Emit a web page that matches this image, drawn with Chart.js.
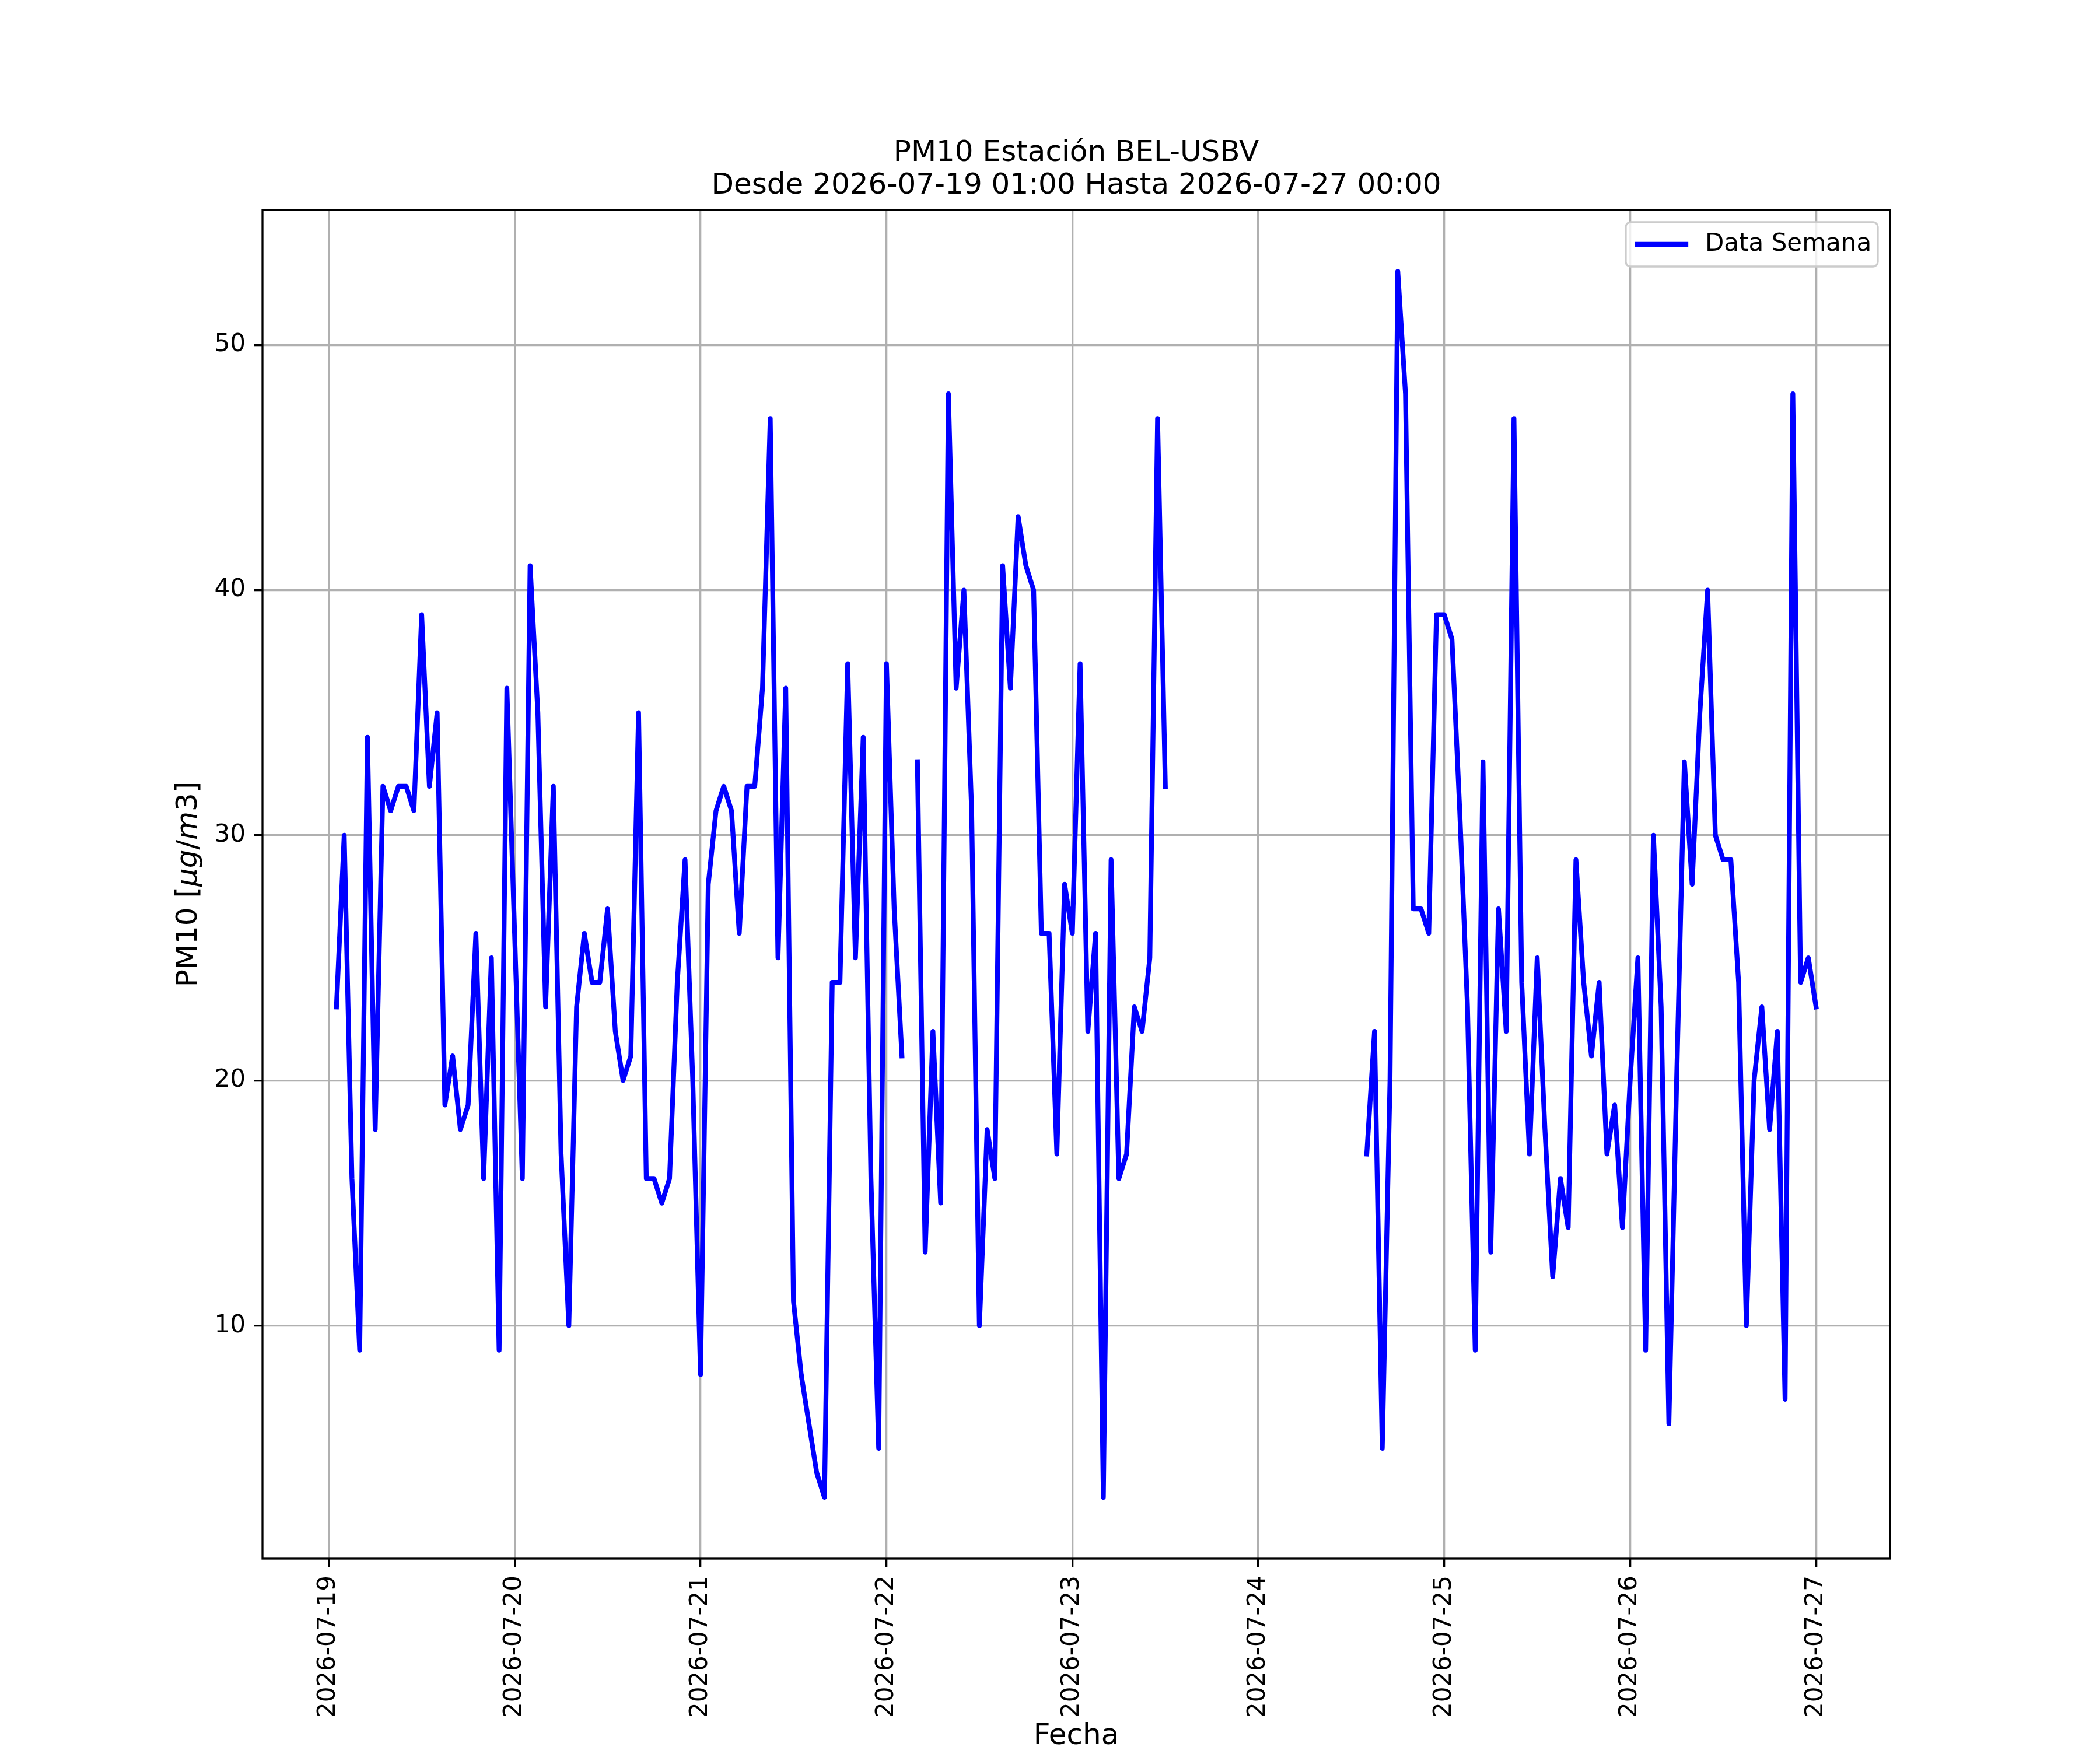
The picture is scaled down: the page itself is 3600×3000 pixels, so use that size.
<!DOCTYPE html>
<html>
<head>
<meta charset="utf-8">
<script src="https://cdn.jsdelivr.net/npm/chart.js@4.4.1/dist/chart.umd.min.js"></script>
<style>
  body { margin: 0; background: #fff; }
  canvas { display: block; }
</style>
</head>
<body>
<canvas id="grafico" width="3600" height="3000" style="width:3600px;height:3000px"></canvas>
<script>
// Titulo y serie
const titulo = ['PM10 Estación BEL-USBV', 'Desde 2026-07-19 01:00 Hasta 2026-07-27 00:00'];
const etiquetaSerie = 'Data Semana';

// PM10 horario por dia, posicion = hora 00..23 (null = sin dato)
const dia19 = [null, 23, 30, 16, 9, 34, 18, 32, 31, 32, 32, 31, 39, 32, 35, 19, 21, 18, 19, 26, 16, 25, 9, 36];
const dia20 = [26, 16, 41, 35, 23, 32, 17, 10, 23, 26, 24, 24, 27, 22, 20, 21, 35, 16, 16, 15, 16, 24, 29, 20];
const dia21 = [8, 28, 31, 32, 31, 26, 32, 32, 36, 47, 25, 36, 11, 8, 6, 4, 3, 24, 24, 37, 25, 34, 16, 5];
const dia22 = [37, 27, 21, null, 33, 13, 22, 15, 48, 36, 40, 31, 10, 18, 16, 41, 36, 43, 41, 40, 26, 26, 17, 28];
const dia23 = [26, 37, 22, 26, 3, 29, 16, 17, 23, 22, 25, 47, 32, null, null, null, null, null, null, null, null, null, null, null];
const dia24 = [null, null, null, null, null, null, null, null, null, null, null, null, null, null, 17, 22, 5, 20, 53, 48, 27, 27, 26, 39];
const dia25 = [39, 38, 31, 23, 9, 33, 13, 27, 22, 47, 24, 17, 25, 18, 12, 16, 14, 29, 24, 21, 24, 17, 19, 14];
const dia26 = [20, 25, 9, 30, 23, 6, 20, 33, 28, 35, 40, 30, 29, 29, 24, 10, 20, 23, 18, 22, 7, 48, 24, 25];
const dia27 = [23];

// etiquetas de los ejes
const fechasTicks = ['2026-07-19', '2026-07-20', '2026-07-21', '2026-07-22', '2026-07-23',
                     '2026-07-24', '2026-07-25', '2026-07-26', '2026-07-27'];
const ticksY = [10, 20, 30, 40, 50];

// eje x en horas desde 2026-07-19 00:00
const dias = [dia19, dia20, dia21, dia22, dia23, dia24, dia25, dia26, dia27];
const puntos = [];
dias.forEach((valores, d) => {
    valores.forEach((v, h) => {
        puntos.push({ x: d * 24 + h, y: v });
    });
});

Chart.defaults.font.family = '"DejaVu Sans", sans-serif';
Chart.defaults.color = '#000';

// marco, leyenda y rotulo del eje y (con parte en cursiva)
const extras = {
    id: 'extras',
    afterDraw(chart) {
        const ctx = chart.ctx;
        const area = chart.chartArea;

        ctx.save();
        ctx.strokeStyle = '#000';
        ctx.lineWidth = 3.3;
        ctx.strokeRect(area.left, area.top, area.right - area.left, area.bottom - area.top);

        // leyenda arriba a la derecha
        const ds = chart.data.datasets[0];
        const ancho = 432, alto = 76;
        const lx = area.right - 21 - ancho;
        const ly = area.top + 21;
        ctx.beginPath();
        ctx.roundRect(lx, ly, ancho, alto, 8);
        ctx.fillStyle = 'rgba(255,255,255,0.8)';
        ctx.fill();
        ctx.strokeStyle = '#cccccc';
        ctx.lineWidth = 3.3;
        ctx.stroke();
        ctx.beginPath();
        ctx.moveTo(lx + 20, ly + alto / 2);
        ctx.lineTo(lx + 103, ly + alto / 2);
        ctx.strokeStyle = ds.borderColor;
        ctx.lineWidth = ds.borderWidth;
        ctx.lineCap = 'square';
        ctx.stroke();
        ctx.fillStyle = '#000';
        ctx.font = '42px "DejaVu Sans"';
        ctx.textBaseline = 'middle';
        ctx.textAlign = 'left';
        ctx.fillText(ds.label, lx + 136, ly + alto / 2);

        // rotulo eje y: PM10 [μg/m3]
        const partes = [
            { t: 'PM10 [', f: '50px "DejaVu Sans"' },
            { t: 'μg', f: 'italic 50px "DejaVu Sans"' },
            { t: '/', f: '50px "DejaVu Sans"' },
            { t: 'm', f: 'italic 50px "DejaVu Sans"' },
            { t: '3', f: '50px "DejaVu Sans"' },
            { t: ']', f: '50px "DejaVu Sans"' }
        ];
        let total = 0;
        partes.forEach(p => { ctx.font = p.f; p.w = ctx.measureText(p.t).width; total += p.w; });
        ctx.translate(324, (area.top + area.bottom) / 2);
        ctx.rotate(-Math.PI / 2);
        let x = -total / 2;
        partes.forEach(p => {
            ctx.font = p.f;
            ctx.fillText(p.t, x, 0);
            x += p.w;
        });
        ctx.restore();
    }
};

new Chart(document.getElementById('grafico'), {
    type: 'line',
    data: {
        datasets: [{
            label: etiquetaSerie,
            data: puntos,
            borderColor: '#0000ff',
            borderWidth: 8.3,
            borderJoinStyle: 'round',
            borderCapStyle: 'square',
            pointRadius: 0,
            tension: 0,
            spanGaps: false
        }]
    },
    options: {
        responsive: false,
        devicePixelRatio: 1,
        animation: false,
        layout: { padding: { left: 90, right: 360, top: 0, bottom: 0 } },
        plugins: {
            legend: { display: false },
            tooltip: { enabled: false },
            title: {
                display: true,
                fullSize: false,
                text: titulo,
                color: '#000',
                font: { size: 50, weight: 'normal', lineHeight: 1.12 },
                padding: { top: 235, bottom: 13 }
            }
        },
        scales: {
            x: {
                type: 'linear',
                min: -8.55,
                max: 201.55,
                afterBuildTicks: (scale) => {
                    scale.ticks = fechasTicks.map((f, i) => ({ value: i * 24 }));
                },
                afterFit: (scale) => { scale.height = 328; },
                ticks: {
                    autoSkip: false,
                    minRotation: 90,
                    maxRotation: 90,
                    padding: 14,
                    font: { size: 42 },
                    callback: (v, i) => fechasTicks[i]
                },
                grid: { color: '#b0b0b0', lineWidth: 3.3, tickLength: 15, tickColor: '#000', tickWidth: 3.3 },
                border: { display: false },
                title: { display: true, text: 'Fecha', font: { size: 50 }, padding: { top: 0, bottom: -7 } }
            },
            y: {
                min: 0.5,
                max: 55.5,
                afterBuildTicks: (scale) => {
                    scale.ticks = ticksY.map(v => ({ value: v }));
                },
                afterFit: (scale) => { scale.width = 360; },
                ticks: { padding: 14, font: { size: 42 } },
                grid: { color: '#b0b0b0', lineWidth: 3.3, tickLength: 15, tickColor: '#000', tickWidth: 3.3 },
                border: { display: false }
            }
        }
    },
    plugins: [extras]
});
</script>
</body>
</html>
